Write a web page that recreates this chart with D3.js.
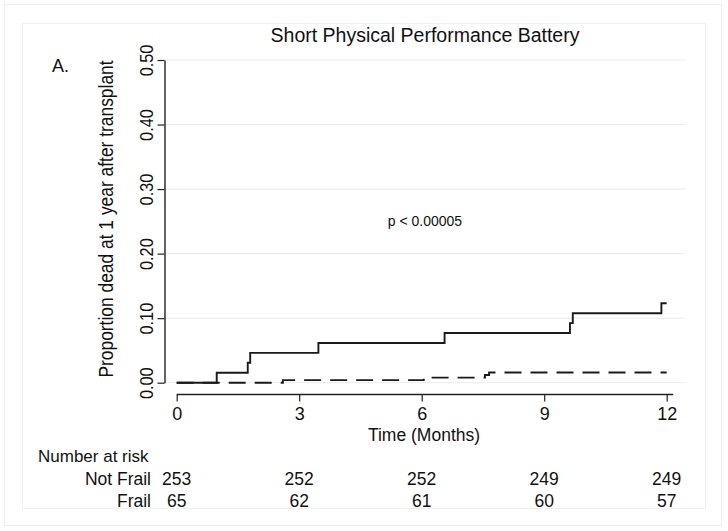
<!DOCTYPE html>
<html><head><meta charset="utf-8">
<script src="https://cdn.jsdelivr.net/npm/d3@7"></script>
<style>
html,body{margin:0;padding:0;background:#fff;}
text{font-family:"Liberation Sans",Arial,Helvetica,sans-serif;fill:#111;}
</style></head>
<body>
<svg id="chart" width="728" height="531"></svg>
<script>
// ---- data ----
const title = "Short Physical Performance Battery";
const panelLabel = "A.";
const pText = "p < 0.00005";
const yTicks = [0, 0.1, 0.2, 0.3, 0.4, 0.5];
const xTicks = [0, 3, 6, 9, 12];
const groups = ["Not Frail", "Frail"];
// step times (months) and cumulative proportion dead
const frailTimes = [0, 0.98, 1.74, 1.80, 3.47, 6.56, 9.63, 9.70, 11.87, 12.0];
const frailValues = [0, 0.0154, 0.0308, 0.0462, 0.0615, 0.0769, 0.0923, 0.1077, 0.1231, 0.1231];
const notFrailTimes = [0, 2.6, 6.05, 7.55, 7.65, 12.0];
const notFrailValues = [0, 0.0040, 0.0079, 0.0119, 0.0158, 0.0158];
const atRiskNotFrail = [253, 252, 252, 249, 249];
const atRiskFrail = [65, 62, 61, 60, 57];

const K = 1.12; // thickness stretch for rotated labels
const svg = d3.select("#chart");
function txt(sel, x, y, s, size, anchor){
  return sel.append("text").attr("x", x).attr("y", y)
    .attr("text-anchor", anchor || "start").attr("font-size", size).text(s);
}

// outer and inner frames
svg.append("rect").attr("x",4.5).attr("y",4.5).attr("width",717).attr("height",521)
  .attr("fill","#fff").attr("stroke","#eaeeee").attr("stroke-width",1);
svg.append("rect").attr("x",22.5).attr("y",23.5).attr("width",683).attr("height",485)
  .attr("fill","#fff").attr("stroke","#eef1f1").attr("stroke-width",1);

const x = d3.scaleLinear().domain([0,12]).range([176.7,666.7]);
const y = d3.scaleLinear().domain([0,0.5]).range([382.7,60]);

// gridlines
svg.append("g").selectAll("line").data(yTicks).join("line")
  .attr("x1",164).attr("x2",685)
  .attr("y1",d=>y(d)).attr("y2",d=>y(d))
  .attr("stroke","#e6ecee").attr("stroke-width",1);

// y axis
const yAxis = svg.append("g").attr("transform","translate(164.5,0)")
  .call(d3.axisLeft(y).tickValues(yTicks).tickFormat(d3.format(".2f")).tickSize(7).tickSizeOuter(0));
yAxis.select(".domain").attr("stroke","#222").attr("stroke-width",1.4);
yAxis.selectAll(".tick line").attr("stroke","#222").attr("stroke-width",1.2);
yAxis.selectAll(".tick text").attr("font-size",16.3).attr("fill","#111")
  .attr("x",0).attr("y",0).attr("dy","0")
  .attr("transform",`translate(-11.5,0) scale(${K},1) rotate(-90)`)
  .attr("text-anchor","middle")
  .attr("font-family","'Liberation Sans',Arial,sans-serif");

// x axis
const xAxis = svg.append("g").attr("transform","translate(0,394.5)")
  .call(d3.axisBottom(x).tickValues(xTicks).tickSize(7).tickSizeOuter(0));
xAxis.select(".domain").attr("stroke","#222").attr("stroke-width",1.4)
  .attr("d",`M${x(0)},0H${x(12)+6.5}`);
xAxis.selectAll(".tick line").attr("stroke","#222").attr("stroke-width",1.2);
xAxis.selectAll(".tick text").attr("font-size",18).attr("fill","#111").attr("y",25.5).attr("dy","0")
  .attr("font-family","'Liberation Sans',Arial,sans-serif");

// curves
const stepLine = d3.line().x(d=>x(d[0])).y(d=>y(d[1])).curve(d3.curveStepAfter);
const frailData = frailTimes.map((t,i)=>[t,frailValues[i]]);
const notFrailData = notFrailTimes.map((t,i)=>[t,notFrailValues[i]]);
svg.append("path").datum(notFrailData).attr("d",stepLine)
  .attr("fill","none").attr("stroke","#1a1a1a").attr("stroke-width",1.9)
  .attr("stroke-dasharray","17,9");
svg.append("path").datum(frailData).attr("d",stepLine)
  .attr("fill","none").attr("stroke","#1a1a1a").attr("stroke-width",1.9);

// texts
txt(svg, 425, 42, title, 19.5, "middle");
txt(svg, 52, 72, panelLabel, 18);
txt(svg, 425, 226, pText, 14, "middle");
svg.append("text").attr("transform",`translate(113,219) scale(${K},1) rotate(-90)`)
  .attr("text-anchor","middle").attr("font-size",17.4)
  .text("Proportion dead at 1 year after transplant");
txt(svg, 424, 441, "Time (Months)", 17.5, "middle");

// number at risk table
txt(svg, 38, 462, "Number at risk", 17);
const rows = [atRiskNotFrail, atRiskFrail];
rows.forEach((vals,r)=>{
  const yy = 484.5 + r*22;
  txt(svg, 151, yy, groups[r], 17.5, "end");
  svg.append("g").selectAll("text").data(vals).join("text")
    .attr("x",(d,i)=>x(xTicks[i])).attr("y",yy).attr("text-anchor","middle")
    .attr("font-size",17.5).text(d=>d);
});
</script>
</body></html>
